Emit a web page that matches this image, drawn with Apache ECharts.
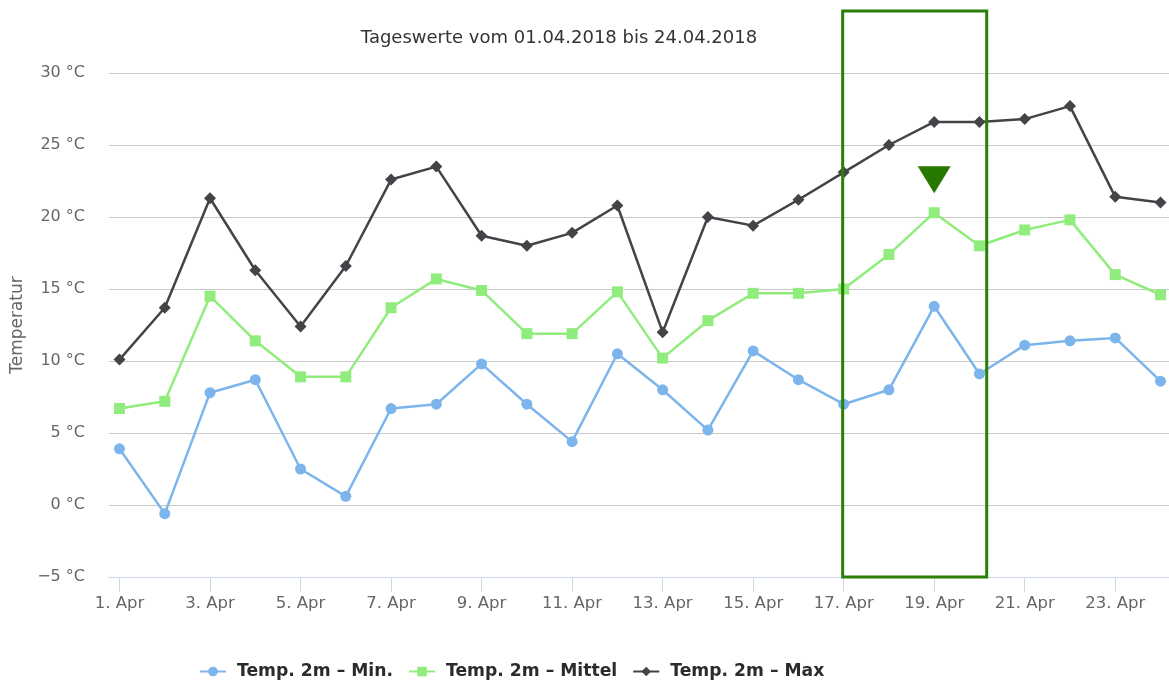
<!DOCTYPE html>
<html>
<head>
<meta charset="utf-8">
<script src="https://cdn.jsdelivr.net/npm/echarts@6/dist/echarts.min.js"></script>
<style>
  html, body { margin: 0; padding: 0; background: #fff; }
  #chart { width: 1169px; height: 682px; }
</style>
</head>
<body>
<div id="chart"></div>
<script>
// Daily temperatures at 2 m, 1–24 April 2018
const categories = [
  '1. Apr', '2. Apr', '3. Apr', '4. Apr', '5. Apr', '6. Apr', '7. Apr', '8. Apr',
  '9. Apr', '10. Apr', '11. Apr', '12. Apr', '13. Apr', '14. Apr', '15. Apr', '16. Apr',
  '17. Apr', '18. Apr', '19. Apr', '20. Apr', '21. Apr', '22. Apr', '23. Apr', '24. Apr'
];
const minTemps  = [3.9, -0.6, 7.8, 8.7, 2.5, 0.6, 6.7, 7.0, 9.8, 7.0, 4.4, 10.5,
                   8.0, 5.2, 10.7, 8.7, 7.0, 8.0, 13.8, 9.1, 11.1, 11.4, 11.6, 8.6];
const meanTemps = [6.7, 7.2, 14.5, 11.4, 8.9, 8.9, 13.7, 15.7, 14.9, 11.9, 11.9, 14.8,
                   10.2, 12.8, 14.7, 14.7, 15.0, 17.4, 20.3, 18.0, 19.1, 19.8, 16.0, 14.6];
const maxTemps  = [10.1, 13.7, 21.3, 16.3, 12.4, 16.6, 22.6, 23.5, 18.7, 18.0, 18.9, 20.8,
                   12.0, 20.0, 19.4, 21.2, 23.1, 25.0, 26.6, 26.6, 26.8, 27.7, 21.4, 21.0];
const seriesNames = ['Temp. 2m – Min.', 'Temp. 2m – Mittel', 'Temp. 2m – Max'];
const titleText = 'Tageswerte vom 01.04.2018 bis 24.04.2018';
const axisTitle = 'Temperatur';
const highlightFrom = '17. Apr';
const highlightTo = '20. Apr';
const peakDay = '19. Apr';

const FONT = 'DejaVu Sans';
const yMin = -5, yMax = 30, yStep = 5;
const plotTop = 73, plotBottom = 105;

function tempLabel(v) {
  return (v < 0 ? '\u2212' + Math.abs(v) : v) + ' °C';
}

const chart = echarts.init(document.getElementById('chart'), null, { renderer: 'canvas' });

const option = {
  backgroundColor: '#ffffff',
  animation: false,
  title: {
    text: titleText,
    left: 554,
    textAlign: 'center',
    top: 24,
    textStyle: { fontFamily: FONT, fontSize: 18, fontWeight: 'normal', color: '#333333' }
  },
  legend: {
    left: 194,
    top: 658,
    itemWidth: 26,
    itemHeight: 12,
    itemGap: 15,
    data: seriesNames,
    textStyle: { fontFamily: FONT, fontSize: 17.2, fontWeight: 'bold', color: '#2b2b2b', padding: [0, 0, 0, 6] }
  },
  grid: [
    // background frame: gridlines and value labels
    { left: 109, right: 0, top: plotTop, bottom: plotBottom, containLabel: false },
    // data area
    { left: 119.5, right: 8.5, top: plotTop, bottom: plotBottom, containLabel: false }
  ],
  xAxis: [
    {
      gridIndex: 0, type: 'value', min: 0, max: 1, position: 'bottom',
      axisLine: { show: true, onZero: false, lineStyle: { color: '#ccd6eb', width: 1 } },
      axisTick: { show: false }, axisLabel: { show: false }, splitLine: { show: false }
    },
    {
      gridIndex: 1, type: 'category', data: categories, boundaryGap: false, position: 'bottom',
      axisLine: { show: false, onZero: false },
      axisTick: { show: true, interval: 1, length: 15, lineStyle: { color: '#ccd6eb' } },
      axisLabel: { interval: 1, margin: 18, fontFamily: FONT, fontSize: 16.5, color: '#666666' },
      splitLine: { show: false }
    }
  ],
  yAxis: [
    {
      gridIndex: 0, type: 'value', min: yMin, max: yMax, interval: yStep,
      name: axisTitle, nameLocation: 'middle', nameRotate: 90, nameGap: 82,
      nameTextStyle: { fontFamily: FONT, fontSize: 17, color: '#666666' },
      axisLine: { show: false }, axisTick: { show: false },
      axisLabel: { margin: 24, fontFamily: FONT, fontSize: 16, color: '#666666', formatter: tempLabel },
      splitLine: { show: true, lineStyle: { color: '#c8c8c8', width: 1 } }
    },
    {
      gridIndex: 1, type: 'value', min: yMin, max: yMax, interval: yStep,
      axisLine: { show: false }, axisTick: { show: false }, axisLabel: { show: false },
      splitLine: { show: false }
    }
  ],
  series: [
    {
      name: seriesNames[0], type: 'line', xAxisIndex: 1, yAxisIndex: 1,
      data: minTemps, symbol: 'circle', symbolSize: 11,
      lineStyle: { color: '#7cb5ec', width: 2.5 },
      itemStyle: { color: '#7cb5ec' }, z: 3
    },
    {
      name: seriesNames[1], type: 'line', xAxisIndex: 1, yAxisIndex: 1,
      data: meanTemps, symbol: 'rect', symbolSize: 11,
      lineStyle: { color: '#90ed7d', width: 2.5 },
      itemStyle: { color: '#90ed7d' }, z: 3,
      markPoint: {
        symbol: 'triangle', symbolRotate: 180, symbolSize: [33, 27], symbolOffset: [0, -33],
        itemStyle: { color: '#277800' },
        label: { show: false },
        data: [{ coord: [peakDay, meanTemps[categories.indexOf(peakDay)]] }]
      }
    },
    {
      name: seriesNames[2], type: 'line', xAxisIndex: 1, yAxisIndex: 1,
      data: maxTemps, symbol: 'diamond', symbolSize: 12,
      lineStyle: { color: '#434348', width: 2.5 },
      itemStyle: { color: '#434348' }, z: 3
    }
  ]
};

chart.setOption(option);

// frame around the highlighted days, placed through the category axis
const iFrom = categories.indexOf(highlightFrom);
const iTo = categories.indexOf(highlightTo);
const x0 = chart.convertToPixel({ xAxisIndex: 1 }, categories[iFrom]);
const xTo = chart.convertToPixel({ xAxisIndex: 1 }, categories[iTo]);
const xPrev = chart.convertToPixel({ xAxisIndex: 1 }, categories[iTo - 1]);
const x1 = xTo + 0.16 * (xTo - xPrev);
const yBottom = chart.convertToPixel({ yAxisIndex: 1 }, yMin);
chart.setOption({
  graphic: [{
    type: 'rect', z: 10, silent: true,
    shape: { x: x0 - 1, y: 11, width: x1 - x0 + 1, height: yBottom - 11 },
    style: { fill: 'none', stroke: '#2a7f06', lineWidth: 3 }
  }]
});
</script>
</body>
</html>
